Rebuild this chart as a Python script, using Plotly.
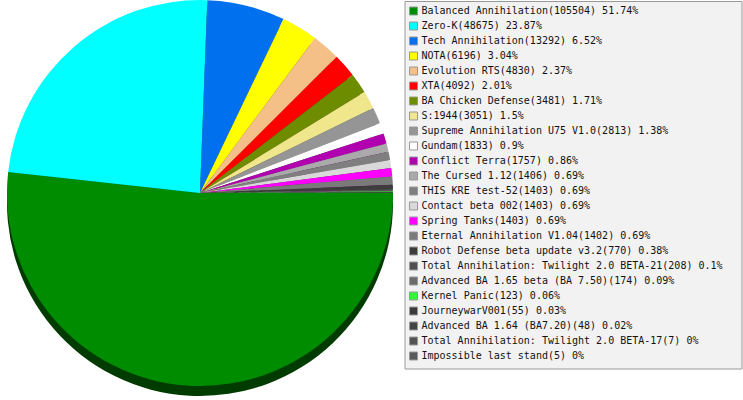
import plotly.graph_objects as go

# Games and their counts, in drawing order
games = [
    "Balanced Annihilation", "Zero-K", "Tech Annihilation", "NOTA", "Evolution RTS",
    "XTA", "BA Chicken Defense", "S:1944", "Supreme Annihilation U75 V1.0", "Gundam",
    "Conflict Terra", "The Cursed 1.12", "THIS KRE test-52", "Contact beta 002",
    "Spring Tanks", "Eternal Annihilation V1.04", "Robot Defense beta update v3.2",
    "Total Annihilation: Twilight 2.0 BETA-21", "Advanced BA 1.65 beta (BA 7.50)",
    "Kernel Panic", "JourneywarV001", "Advanced BA 1.64 (BA7.20)",
    "Total Annihilation: Twilight 2.0 BETA-17", "Impossible last stand",
]
counts = [
    105504, 48675, 13292, 6196, 4830, 4092, 3481, 3051, 2813, 1833, 1757, 1406,
    1403, 1403, 1403, 1402, 770, 208, 174, 123, 55, 48, 7, 5,
]
colors = [
    "#008c00", "#00ffff", "#0070ee", "#ffff00", "#f4c088", "#ff0000", "#6e8c00",
    "#f0e68c", "#959595", "#ffffff", "#b000b0", "#aaaaaa", "#7f7f7f", "#d9d9d9",
    "#ff00ff", "#7a7a7a", "#3c3c3c", "#505050", "#6c6c6c", "#2cff2c", "#3a3a3a",
    "#444444", "#545454", "#5a5a5a",
]


def darker(c, f=0.43):
    r, g, b = (int(c[i:i + 2], 16) for i in (1, 3, 5))
    return "#%02x%02x%02x" % (int(r * f), int(g * f), int(b * f))


total = sum(counts)
legend_text = []
for name, n in zip(games, counts):
    pct = round(n * 100.0 / total, 2)
    legend_text.append("%s(%d) %s%%" % (name, n, format(pct, "g")))

W, H = 743, 400
pie_px = 386      # diameter of top face
depth = 10        # height of the 3d rim

fig = go.Figure()

# rim / shadow
fig.add_trace(go.Pie(
    labels=games, values=counts, sort=False, direction="clockwise", rotation=90,
    marker=dict(colors=[darker(c) for c in colors], line=dict(width=0)),
    textinfo="none", hoverinfo="skip", showlegend=False,
    domain=dict(x=[0, 400 / W], y=[1 - (pie_px + depth) / H, 1 - depth / H]),
))
# top face
fig.add_trace(go.Pie(
    labels=games, values=counts, sort=False, direction="clockwise", rotation=90,
    marker=dict(colors=colors, line=dict(width=0)),
    textinfo="none", showlegend=False,
    domain=dict(x=[0, 400 / W], y=[1 - pie_px / H, 1]),
))

# legend drawn as scatter rows
rows = list(range(len(games)))
fig.add_trace(go.Scatter(
    x=[413.5] * len(rows), y=rows, mode="markers",
    marker=dict(symbol="square", size=8, color=colors, line=dict(width=1, color="#999999")),
    hoverinfo="skip", showlegend=False,
))
fig.add_trace(go.Scatter(
    x=[421.5] * len(rows), y=rows, mode="text", text=legend_text,
    textposition="middle right",
    textfont=dict(family="DejaVu Sans Mono", size=10, color="#111111"),
    hoverinfo="skip", showlegend=False,
))

fig.update_layout(
    width=W, height=H,
    margin=dict(l=0, r=0, t=0, b=0),
    paper_bgcolor="white", plot_bgcolor="rgba(0,0,0,0)",
    xaxis=dict(range=[0, W], visible=False, fixedrange=True),
    yaxis=dict(range=[(H - 11) / 15.0, -11 / 15.0], visible=False, fixedrange=True),
    shapes=[dict(type="rect", xref="paper", yref="paper", layer="below",
                 x0=405 / W, x1=742 / W, y0=1 - 369 / H, y1=1 - 1.5 / H,
                 fillcolor="#f2f2f2", line=dict(color="#999999", width=1))],
)

# drop the default page margin so the chart sits at the window corner
fig.write_html("out.html", config={"displayModeBar": False},
               post_script="document.body.style.margin='0';")
